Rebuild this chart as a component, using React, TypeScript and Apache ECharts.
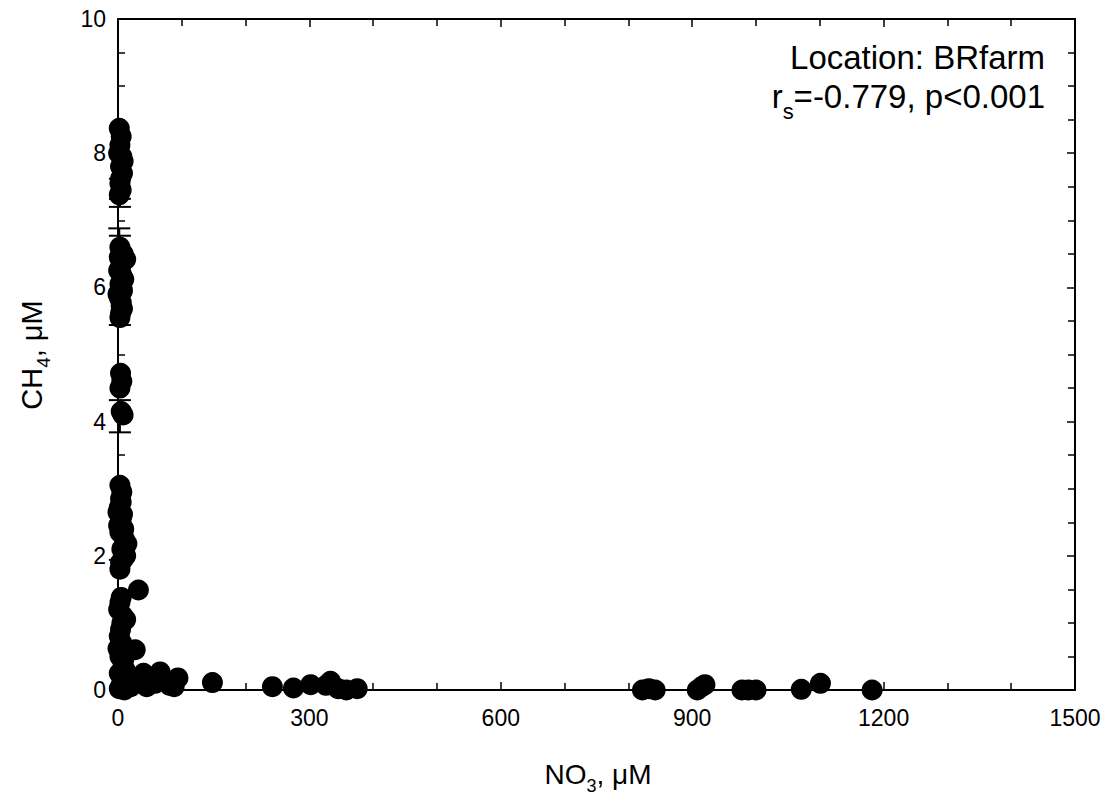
import React, { useEffect, useRef } from "react";
import * as echarts from "echarts";

// NO3 (µM) and CH4 (µM) pairs, BRfarm location
const no3Values: number[] = [
  2, 5, 3, 6, 4, 7, 3, 5, 2, 1, 4, 8,
  3, 8, 12, 4, 6, 3, 7, 2, 5, 4, 3, 1, 6, 2, 5, 9, 0, 7,
  4, 6, 3, 5, 8,
  3, 6, 4, 2, 7, 5, 3, 10, 14, 6, 12, 4, 3, 1, 5, 8, 0, 9,
  32,
  5, 3, 8, 12, 4, 2, 6, 27, 3, 8, 2, 14, 5, 2, 10, 20, 1, 6, 9, 0, 11,
  40, 45, 66, 58, 81, 94, 88,
  148, 242, 275, 302, 326, 333, 345, 358, 375,
  822, 832, 842, 908, 915, 920, 978, 988, 1000, 1071, 1101, 1182,
];
const ch4Values: number[] = [
  8.37, 8.25, 8.12, 7.95, 7.8, 7.7, 7.55, 7.45, 7.38, 8.0, 7.62, 7.88,
  6.6, 6.5, 6.42, 6.3, 6.18, 6.05, 5.95, 5.85, 5.72, 5.62, 5.55, 6.25, 6.0, 6.45, 5.78, 6.12, 5.9, 5.68,
  4.72, 4.6, 4.5, 4.15, 4.1,
  3.05, 2.95, 2.85, 2.72, 2.62, 2.55, 2.35, 2.25, 2.18, 2.1, 2.0, 1.9, 1.8, 2.45, 2.8, 1.95, 2.65, 2.4,
  1.49,
  1.38, 1.3, 1.1, 1.05, 0.9, 0.8, 0.7, 0.6, 0.5, 0.35, 0.25, 0.15, 0.08, 0.02, 0.0, 0.05, 1.2, 1.0, 0.45, 0.62, 0.3,
  0.25, 0.05, 0.27, 0.1, 0.07, 0.18, 0.05,
  0.11, 0.05, 0.03, 0.08, 0.07, 0.13, 0.02, 0.0, 0.02,
  0.0, 0.02, 0.0, 0.0, 0.05, 0.08, 0.0, 0.0, 0.0, 0.01, 0.1, 0.0,
];

// Vertical error bars (mean, lower, upper) for the replicated near-zero NO3 samples
const errNo3: number[] = [3, 3, 2, 3, 3, 3];
const errMean: number[] = [7.6, 7.47, 6.39, 6.1, 4.08, 2.18];
const errLow: number[] = [7.2, 7.32, 5.9, 5.44, 3.84, 1.94];
const errHigh: number[] = [8.0, 7.62, 6.88, 6.77, 4.32, 2.41];

const xTicks = { min: 0, max: 1500, interval: 300 };
const yTicks = { min: 0, max: 10, interval: 2 };

const FONT = "'Liberation Sans', Arial, sans-serif";

export default function App() {
  const ref = useRef<HTMLDivElement>(null);

  useEffect(() => {
    if (!ref.current) return;
    const chart = echarts.init(ref.current, undefined, { renderer: "svg" });

    const points = no3Values.map((x, i) => [x, ch4Values[i]]);
    const bars = errNo3.map((x, i) => [x, errMean[i], errLow[i], errHigh[i]]);

    const axisCommon = {
      type: "value" as const,
      splitLine: { show: false },
      axisLine: { show: true, onZero: false, lineStyle: { color: "#000", width: 2 } },
      axisTick: { show: true, inside: true, length: 8, lineStyle: { color: "#000", width: 1.5 } },
    };
    const plain = (v: number) => String(v);

    // rich styles: subscript token is pushed down with top padding
    const richText = (size: number, subSize: number, drop: number) => ({
      n: { fontSize: size, fontFamily: FONT, color: "#000", lineHeight: size + 4 },
      s: { fontSize: subSize, fontFamily: FONT, color: "#000", lineHeight: size + 4, padding: [drop, 0, 0, 0] },
    });

    chart.setOption({
      animation: false,
      backgroundColor: "#fff",
      grid: { left: 118, right: 37, top: 19, bottom: 115, containLabel: false },
      xAxis: [
        {
          ...axisCommon,
          ...xTicks,
          position: "bottom",
          minorTick: { show: true, splitNumber: 3, length: 7, lineStyle: { color: "#000", width: 1.5 } },
          axisLabel: { color: "#000", fontSize: 23, fontFamily: FONT, margin: 16, formatter: plain },
        },
        {
          ...axisCommon,
          ...xTicks,
          position: "top",
          minorTick: { show: true, splitNumber: 3, length: 7, lineStyle: { color: "#000", width: 1.5 } },
          axisLabel: { show: false },
        },
      ],
      yAxis: [
        {
          ...axisCommon,
          ...yTicks,
          position: "left",
          minorTick: { show: true, splitNumber: 4, length: 7, lineStyle: { color: "#000", width: 1.5 } },
          axisLabel: { color: "#000", fontSize: 23, fontFamily: FONT, margin: 12, formatter: plain },
        },
        {
          ...axisCommon,
          ...yTicks,
          position: "right",
          minorTick: { show: true, splitNumber: 4, length: 7, lineStyle: { color: "#000", width: 1.5 } },
          axisLabel: { show: false },
        },
      ],
      series: [
        {
          type: "custom",
          xAxisIndex: 0,
          yAxisIndex: 0,
          data: bars,
          z: 3,
          renderItem: (params: any, api: any) => {
            const x = api.value(0);
            const lo = api.coord([x, api.value(2)]);
            const hi = api.coord([x, api.value(3)]);
            const half = 11;
            const style = { stroke: "#000", lineWidth: 2 };
            return {
              type: "group",
              children: [
                { type: "line", shape: { x1: lo[0], y1: lo[1], x2: hi[0], y2: hi[1] }, style },
                { type: "line", shape: { x1: lo[0] - half, y1: lo[1], x2: lo[0] + half, y2: lo[1] }, style },
                { type: "line", shape: { x1: hi[0] - half, y1: hi[1], x2: hi[0] + half, y2: hi[1] }, style },
              ],
            };
          },
        },
        {
          type: "scatter",
          xAxisIndex: 0,
          yAxisIndex: 0,
          data: points,
          symbol: "circle",
          symbolSize: 21,
          itemStyle: { color: "#000", opacity: 1 },
          z: 2,
        },
      ],
      graphic: [
        {
          type: "text",
          x: 1045,
          y: 41,
          style: {
            text: "Location: BRfarm",
            font: `33px ${FONT}`,
            fill: "#000",
            align: "right",
            verticalAlign: "top",
          },
        },
        {
          type: "text",
          x: 1045,
          y: 78,
          style: {
            text: "{n|r}{s|s}{n|=-0.779, p<0.001}",
            align: "right",
            verticalAlign: "top",
            rich: richText(33, 22, 30),
          },
        },
        {
          type: "text",
          x: 598,
          y: 758,
          style: {
            text: "{n|NO}{s|3}{n|, μM}",
            align: "center",
            verticalAlign: "top",
            rich: richText(28, 18, 24),
          },
        },
        {
          type: "text",
          x: 15,
          y: 355,
          rotation: Math.PI / 2,
          style: {
            text: "{n|CH}{s|4}{n|, μM}",
            align: "center",
            verticalAlign: "top",
            rich: richText(29, 19, 24),
          },
        },
      ],
    });

    return () => chart.dispose();
  }, []);

  return (
    <div
      ref={ref}
      style={{ position: "fixed", left: 0, top: 0, width: 1112, height: 805, background: "#fff" }}
    />
  );
}
